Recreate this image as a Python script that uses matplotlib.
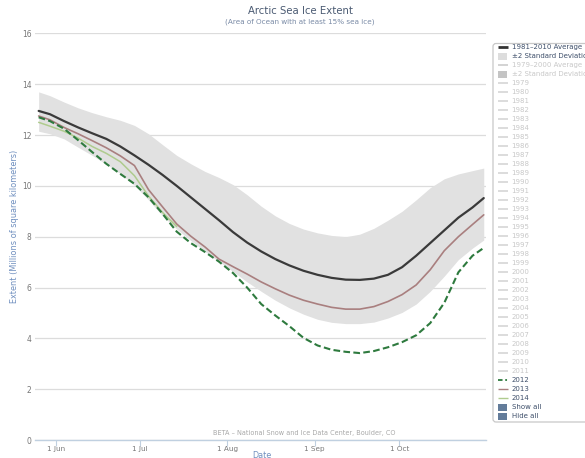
import matplotlib
matplotlib.use("Agg")
import matplotlib.pyplot as plt
from matplotlib.patches import Rectangle, FancyBboxPatch

# ---- data (day of year, extent in millions of km^2) ----
days = [146, 150, 155, 160, 165, 170, 175, 180, 185, 190, 195, 200, 205, 210,
        215, 220, 225, 230, 235, 240, 245, 250, 255, 260, 265, 270, 275, 280,
        285, 290, 295, 300, 304]

avg_1981_2010 = [12.95, 12.82, 12.55, 12.3, 12.07, 11.85, 11.55, 11.2, 10.83,
                 10.43, 10.0, 9.55, 9.1, 8.65, 8.18, 7.77, 7.42, 7.12, 6.87,
                 6.66, 6.5, 6.38, 6.31, 6.3, 6.35, 6.5, 6.8, 7.25, 7.75, 8.25,
                 8.75, 9.15, 9.52]

sd_upper = [13.7, 13.55, 13.3, 13.07, 12.88, 12.72, 12.58, 12.38, 12.05,
            11.62, 11.2, 10.87, 10.57, 10.33, 10.05, 9.65, 9.2, 8.82, 8.52,
            8.3, 8.15, 8.05, 8.0, 8.1, 8.33, 8.65, 9.0, 9.45, 9.93, 10.28,
            10.47, 10.6, 10.7]

sd_lower = [12.15, 12.05, 11.85, 11.52, 11.2, 10.85, 10.48, 10.02, 9.45,
            8.82, 8.3, 7.85, 7.42, 7.02, 6.63, 6.22, 5.85, 5.5, 5.2, 4.95,
            4.75, 4.63, 4.58, 4.58, 4.64, 4.8, 5.02, 5.35, 5.85, 6.45, 7.1,
            7.55, 7.87]

ext_2012 = [12.7, 12.55, 12.25, 11.8, 11.33, 10.87, 10.47, 10.08, 9.55, 8.9,
            8.2, 7.75, 7.4, 7.02, 6.57, 6.0, 5.35, 4.9, 4.48, 4.02, 3.72,
            3.55, 3.47, 3.42, 3.5, 3.65, 3.85, 4.12, 4.6, 5.4, 6.6, 7.25, 7.56]

ext_2013 = [12.75, 12.6, 12.3, 12.05, 11.78, 11.5, 11.18, 10.8, 9.85, 9.17,
            8.5, 8.02, 7.6, 7.12, 6.82, 6.53, 6.22, 5.95, 5.7, 5.5, 5.35, 5.22,
            5.15, 5.15, 5.25, 5.45, 5.72, 6.1, 6.7, 7.45, 8.0, 8.48, 8.86]

days_2014 = [146, 150, 155, 160, 165, 170, 175, 180, 185, 190, 195]
ext_2014 = [12.5, 12.35, 12.15, 11.88, 11.55, 11.28, 10.95, 10.4, 9.6, 8.95,
            8.4]

tick_days = [152, 182, 213, 244, 274]
tick_labels = ["1 Jun", "1 Jul", "1 Aug", "1 Sep", "1 Oct"]
y_ticks = [0, 2, 4, 6, 8, 10, 12, 14, 16]

inactive_years = [str(y) for y in range(1979, 2012)]

# ---- figure ----
W, H = 585, 458
fig = plt.figure(figsize=(W / 100, H / 100), dpi=100)
fig.patch.set_facecolor("white")

ax = fig.add_axes([35 / W, 1 - 440 / H, (486 - 35) / W, (440 - 33.4) / H])
ax.set_xlim(144.7, 304.8)
ax.set_ylim(0, 16)

line_kw = dict(solid_joinstyle="round", solid_capstyle="round")
ax.fill_between(days, sd_lower, sd_upper, color="#E1E1E1", lw=0, zorder=1)
ax.plot(days, avg_1981_2010, color="#3A3A3A", lw=1.6, zorder=4, **line_kw)
ax.plot(days, ext_2013, color="#A97F7F", lw=1.2, zorder=3, **line_kw)
ax.plot(days_2014, ext_2014, color="#AFCB8E", lw=1.1, zorder=3, **line_kw)
ax.plot(days, ext_2012, color="#2E7A3E", lw=1.5, ls=(0, (3.2, 1.6)),
        dash_joinstyle="round", zorder=3)

for s in ["top", "right", "left"]:
    ax.spines[s].set_visible(False)
ax.spines["bottom"].set_color("#C0D0E0")
ax.spines["bottom"].set_linewidth(1.0)
ax.set_yticks(y_ticks)
ax.set_yticklabels([str(v) for v in y_ticks])
ax.yaxis.grid(True, color="#DCDCDC", lw=0.9)
ax.set_axisbelow(True)
ax.tick_params(axis="y", length=0, pad=2.5, labelsize=5.5, labelcolor="#777777")
ax.set_xticks(tick_days)
ax.set_xticklabels(tick_labels)
ax.tick_params(axis="x", length=4, width=0.8, color="#C0D0E0", pad=0.5,
               labelsize=5.2, labelcolor="#777777")

# ---- overlay in pixel coordinates for titles and legend ----
ov = fig.add_axes([0, 0, 1, 1], zorder=10)
ov.set_xlim(0, W)
ov.set_ylim(H, 0)
ov.axis("off")
ov.patch.set_alpha(0)

ov.text(301, 11, "Arctic Sea Ice Extent", ha="center", va="center",
        fontsize=7.3, color="#4A5A72")
ov.text(300, 21.5, "(Area of Ocean with at least 15% sea ice)", ha="center",
        va="center", fontsize=5.2, color="#7A8BA6")
ov.text(15, 226, "Extent (Millions of square kilometers)", rotation=90,
        ha="center", va="center", fontsize=5.9, color="#6F8FBF")
ov.text(304, 433, "BETA \u2013 National Snow and Ice Data Center, Boulder, CO",
        ha="center", va="center", fontsize=4.7, color="#A8A8A8")
ov.text(262, 455, "Date", ha="center", va="center", fontsize=5.8,
        color="#6F8FBF")

# legend box
ov.add_patch(FancyBboxPatch((493, 43.5), 110, 378.5,
                            boxstyle="round,pad=0,rounding_size=3",
                            fc="white", ec="#C8C8C8", lw=0.9, zorder=1))

active = "#3E4F6A"
faded = "#C8C8C8"
items = []
items.append(("line", "#333333", 2.0, "-", "1981\u20132010 Average", active))
items.append(("box", "#DDDDDD", 0, "-", "\u00b12 Standard Deviation", active))
items.append(("line", "#CCCCCC", 1.2, "-", "1979\u20132000 Average", faded))
items.append(("box", "#C4C4C4", 0, "-", "\u00b12 Standard Deviation", faded))
for yr in inactive_years:
    items.append(("line", "#D6D6D6", 1.2, "-", yr, faded))
items.append(("line", "#2E7A3E", 1.3, (0, (2.5, 1.5, 1, 1.5)), "2012", active))
items.append(("line", "#A97F7F", 1.0, "-", "2013", active))
items.append(("line", "#AFCB8E", 1.0, "-", "2014", active))
items.append(("box", "#637C9A", 0, "-", "Show all", active))
items.append(("box", "#637C9A", 0, "-", "Hide all", active))

y0, step = 47.3, 9.0
for i, (kind, col, lw, ls, label, tcol) in enumerate(items):
    yy = y0 + i * step
    if kind == "line":
        ov.plot([497.5, 507.5], [yy, yy], color=col, lw=lw, ls=ls,
                solid_capstyle="butt", zorder=2)
    else:
        ov.add_patch(Rectangle((497.5, yy - 3.8), 9, 7.6, fc=col, ec="none",
                               zorder=2))
    ov.text(511.5, yy, label, ha="left", va="center", fontsize=5.0,
            color=tcol, zorder=3)

fig.savefig("out.png", dpi=100)
